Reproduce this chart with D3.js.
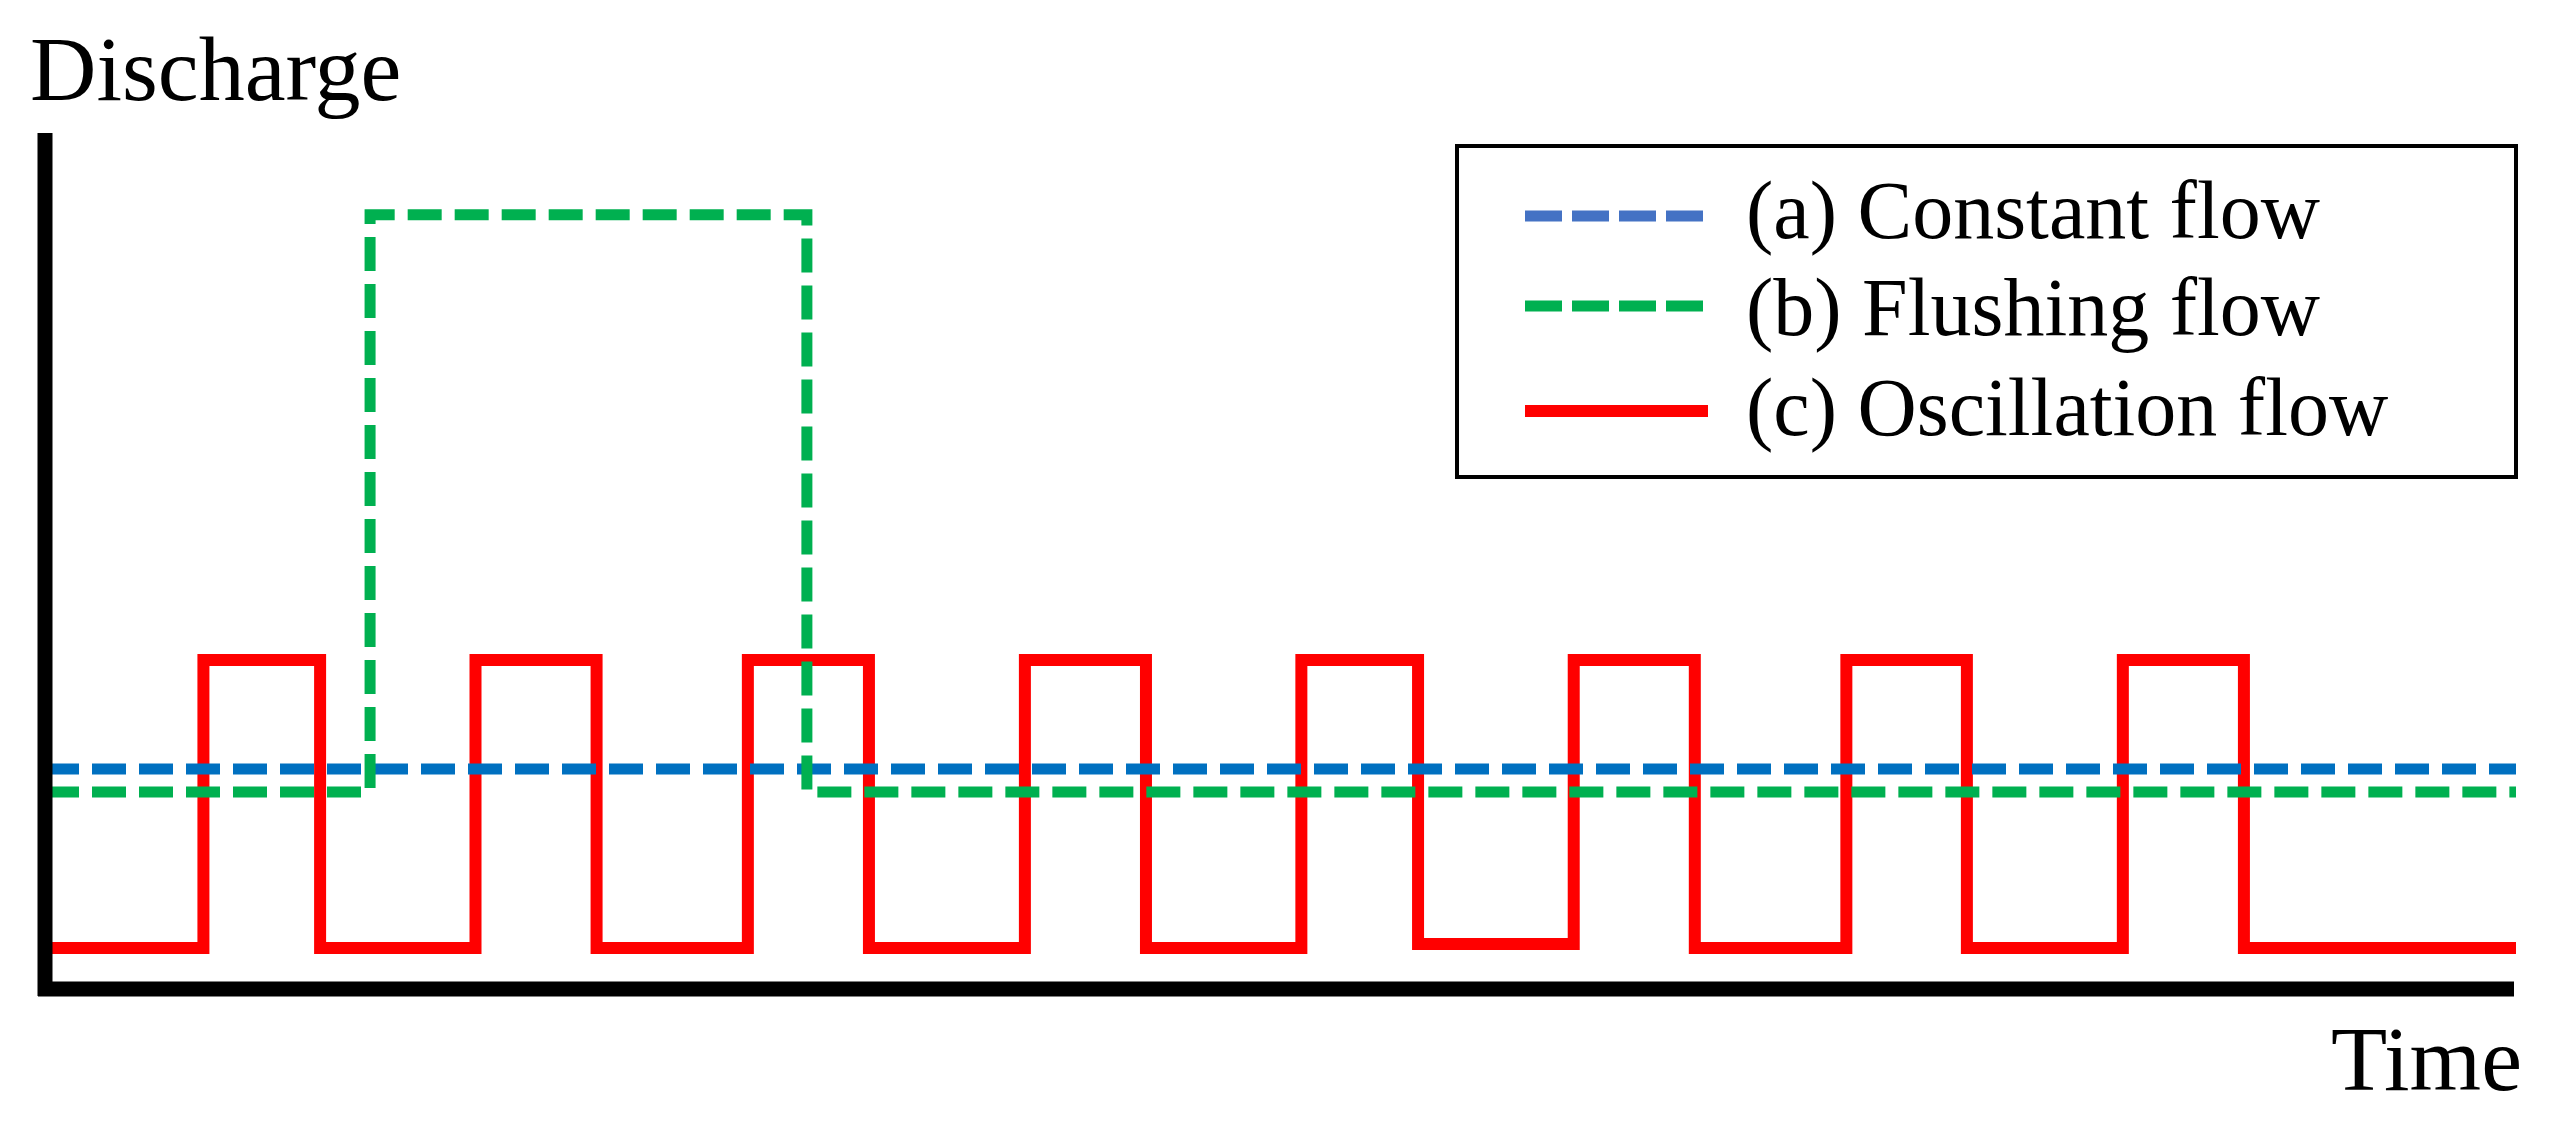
<!DOCTYPE html>
<html>
<head>
<meta charset="utf-8">
<script src="https://cdn.jsdelivr.net/npm/d3@7"></script>
<style>
  html, body { margin: 0; padding: 0; background: #ffffff; }
  svg { display: block; }
  text { font-family: "Liberation Serif", "Times New Roman", serif; fill: #000; }
</style>
</head>
<body>
<script>
// ---- data (arbitrary time / discharge units) ----
const seriesNames = ["(a) Constant flow", "(b) Flushing flow", "(c) Oscillation flow"];

// (a) constant flow
const constTime  = [0, 90];
const constValue = [2.59, 2.59];

// (b) flushing flow (step)
const flushTime  = [0, 11.84, 27.75, 90];
const flushValue = [2.32, 9.12, 2.32, 2.32];

// (c) oscillation flow (step)
const oscTime  = [0, 5.77, 10.02, 15.68, 20.09, 25.60, 30.01, 35.69, 40.10,
                  45.76, 50.01, 55.68, 60.09, 65.61, 70.00, 75.68, 80.09, 90];
const oscValue = [0.483, 3.875, 0.483, 3.875, 0.483, 3.875, 0.483, 3.875, 0.483,
                  3.875, 0.53, 3.875, 0.483, 3.875, 0.483, 3.875, 0.483, 0.483];

const xLabel = "Time";
const yLabel = "Discharge";

// ---- layout ----
const W = 2551, H = 1125;
const svg = d3.select("body").append("svg").attr("width", W).attr("height", H);
svg.append("rect").attr("width", W).attr("height", H).attr("fill", "#fff");

const x = d3.scaleLinear().domain([0, 90]).range([45, 2516]);
const y = d3.scaleLinear().domain([0, 10]).range([989, 140]);

const line = d3.line().x(d => x(d[0])).y(d => y(d[1])).curve(d3.curveStepAfter);

const series = [
  { time: constTime, value: constValue, color: "#0070C0", dash: "34,13", width: 11, legendColor: "#4472C4" },
  { time: flushTime, value: flushValue, color: "#00B050", dash: "34,13", width: 11, legendColor: "#00B050" },
  { time: oscTime,   value: oscValue,   color: "#FF0000", dash: null,    width: 12, legendColor: "#FF0000" }
];

// draw order: oscillation, then constant, flushing? In reference dashed lines sit over red
const order = [2, 0, 1];
order.forEach(i => {
  const s = series[i];
  const pts = s.time.map((t, k) => [t, s.value[k]]);
  svg.append("path")
    .attr("d", line(pts))
    .attr("fill", "none")
    .attr("stroke", s.color)
    .attr("stroke-width", s.width)
    .attr("stroke-linejoin", "miter")
    .attr("stroke-dasharray", s.dash);
});

// ---- axes ----
const yAxis = d3.axisLeft(y).ticks(0).tickSizeOuter(0);
const gy = svg.append("g").attr("transform", `translate(${x(0)},0)`).call(yAxis);
gy.select(".domain").attr("stroke", "#000").attr("stroke-width", 15)
  .attr("d", `M0,${y(0) + 7}V${y(10) - 7}`);

const xAxis = d3.axisBottom(x).ticks(0).tickSizeOuter(0);
const gx = svg.append("g").attr("transform", `translate(0,${y(0)})`).call(xAxis);
gx.select(".domain").attr("stroke", "#000").attr("stroke-width", 15)
  .attr("d", `M${x(0) - 7},0H${x(90) - 2}`);

svg.append("text").attr("x", 30).attr("y", 100)
  .attr("font-size", 92).text(yLabel);
svg.append("text").attr("x", 2522).attr("y", 1090)
  .attr("text-anchor", "end").attr("font-size", 92).text(xLabel);

// ---- legend ----
const lg = svg.append("g");
lg.append("rect").attr("x", 1457).attr("y", 146).attr("width", 1059).attr("height", 331)
  .attr("fill", "#fff").attr("stroke", "#000").attr("stroke-width", 4);

const legendY = [216, 306, 411];
const legendBase = [238, 335, 435];
series.forEach((s, i) => {
  lg.append("line")
    .attr("x1", 1525).attr("x2", i === 2 ? 1708 : 1704)
    .attr("y1", legendY[i]).attr("y2", legendY[i])
    .attr("stroke", s.legendColor)
    .attr("stroke-width", i === 2 ? 12 : 11)
    .attr("stroke-dasharray", s.dash ? "37,10" : null);
  lg.append("text")
    .attr("x", 1746).attr("y", legendBase[i])
    .attr("font-size", 82)
    .text(seriesNames[i]);
});
</script>
</body>
</html>
